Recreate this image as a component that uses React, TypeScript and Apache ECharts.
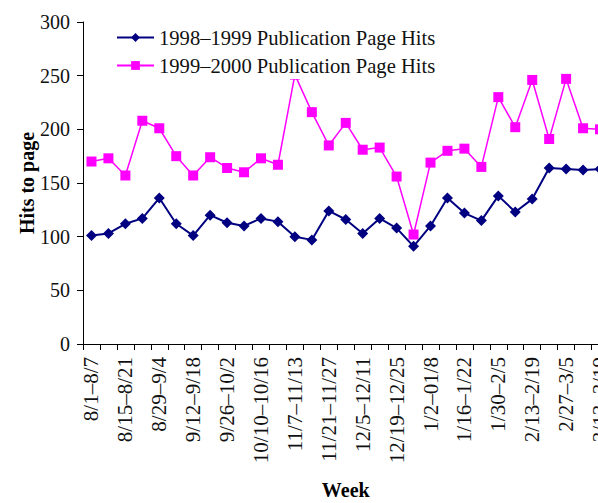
import React, { useEffect, useRef } from "react";
import * as echarts from "echarts";

const weeks = [
  "8/1–8/7", "8/8–8/14", "8/15–8/21", "8/22–8/28", "8/29–9/4", "9/5–9/11",
  "9/12–9/18", "9/19–9/25", "9/26–10/2", "10/3–10/9", "10/10–10/16", "10/31–11/6",
  "11/7–11/13", "11/14–11/20", "11/21–11/27", "11/28–12/4", "12/5–12/11", "12/12–12/18",
  "12/19–12/25", "12/26–1/1", "1/2–01/8", "1/9–1/15", "1/16–1/22", "1/23–1/29",
  "1/30–2/5", "2/6–2/12", "2/13–2/19", "2/20–2/26", "2/27–3/5", "3/6–3/12", "3/13–3/19",
];

const hits9899 = [
  101, 103, 112, 117, 136, 112, 101, 120, 113, 110, 117, 114, 100, 97, 124, 116,
  103, 117, 108, 91, 110, 136, 122, 115, 138, 123, 135, 164, 163, 162, 163,
];

const hits9900 = [
  170, 173, 157, 208, 201, 175, 157, 174, 164, 160, 173, 167, 251, 216, 185, 206,
  181, 183, 156, 102, 169, 180, 182, 165, 230, 202, 246, 191, 247, 201, 200,
];

const seriesNames = ["1998–1999 Publication Page Hits", "1999–2000 Publication Page Hits"];
const yTicks = { min: 0, max: 300, interval: 50 };

const FONT = "'Liberation Serif', 'Times New Roman', serif";

export default function App() {
  const ref = useRef<HTMLDivElement>(null);
  useEffect(() => {
    if (!ref.current) return;
    const chart = echarts.init(ref.current, undefined, { renderer: "svg" });
    chart.setOption({
      animation: false,
      backgroundColor: "#ffffff",
      textStyle: { fontFamily: FONT, color: "#111" },
      grid: {
        left: 83,
        top: 22,
        right: 31.5,
        bottom: 159,
        containLabel: false,
        outerBoundsMode: "none",
      },
      legend: {
        left: 111,
        top: 22,
        orient: "vertical",
        padding: [5, 5, 3, 5],
        itemGap: 7,
        itemWidth: 37,
        itemHeight: 11,
        backgroundColor: "#ffffff",
        textStyle: { fontFamily: FONT, fontSize: 20.6, color: "#111" },
        data: seriesNames,
      },
      xAxis: {
        type: "category",
        data: weeks,
        boundaryGap: true,
        name: "Week",
        nameLocation: "middle",
        nameGap: 136,
        nameMoveOverlap: false,
        nameTextStyle: { fontFamily: FONT, fontSize: 20, fontWeight: "bold", color: "#000" },
        axisLine: { lineStyle: { color: "#000", width: 1 } },
        axisTick: { show: true, interval: 0, length: 6, lineStyle: { color: "#000" } },
        axisLabel: {
          interval: 1,
          rotate: 90,
          margin: 13,
          fontFamily: FONT,
          fontSize: 21,
          color: "#111",
        },
        splitLine: { show: false },
      },
      yAxis: {
        type: "value",
        min: yTicks.min,
        max: yTicks.max,
        interval: yTicks.interval,
        name: "Hits to page",
        nameLocation: "middle",
        nameGap: 46,
        nameMoveOverlap: false,
        nameTextStyle: { fontFamily: FONT, fontSize: 20, fontWeight: "bold", color: "#000" },
        axisLine: { show: true, lineStyle: { color: "#000", width: 1 } },
        axisTick: { show: true, length: 6, lineStyle: { color: "#000" } },
        axisLabel: { margin: 13, fontFamily: FONT, fontSize: 20, color: "#111" },
        splitLine: { show: false },
      },
      series: [
        {
          name: seriesNames[0],
          type: "line",
          data: hits9899,
          symbol: "diamond",
          symbolSize: 11,
          itemStyle: { color: "#000080" },
          lineStyle: { color: "#000080", width: 2 },
          z: 3,
        },
        {
          name: seriesNames[1],
          type: "line",
          data: hits9900,
          symbol: "rect",
          symbolSize: 10,
          itemStyle: { color: "#ff00ff" },
          lineStyle: { color: "#ff00ff", width: 1.5 },
          z: 2,
        },
      ],
    });
    return () => chart.dispose();
  }, []);
  return (
    <div
      style={{
        position: "fixed",
        left: 0,
        top: 0,
        width: 598,
        height: 503,
        overflow: "hidden",
        background: "#fff",
      }}
    >
      <div ref={ref} style={{ width: 640, height: 503 }} />
    </div>
  );
}
